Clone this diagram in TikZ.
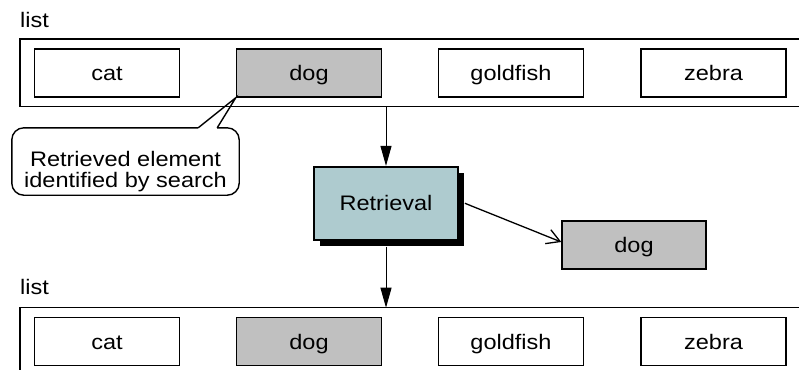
\documentclass[tikz,border=0pt]{standalone}
\usepackage{fontspec}
\setmainfont{Liberation Sans}[FakeStretch=1.12]
\usetikzlibrary{arrows.meta,shadows}
\definecolor{chit}{HTML}{C0C0C0}
\definecolor{cteal}{HTML}{AECBCF}

\begin{document}
\begin{tikzpicture}[x=1pt,y=-1pt,
  every node/.style={font=\fontsize{21}{21}\selectfont},
  item/.style={draw,line width=1.4pt,minimum width=145pt,minimum height=48pt,inner sep=0pt,text height=16pt,text depth=1pt},
  hit/.style={item,fill=chit},
  frame/.style={line width=1.1pt},
  lbl/.style={anchor=base west,inner sep=0pt},
  flow/.style={line width=1pt,-{Triangle[length=20pt,width=11pt]}}]
  \useasboundingbox (0,0) rectangle (799,370);
  \node[lbl] (toplbl) at (20,27) {list};
  \draw[frame] (799,39) -- (20,39) -- (20,106.5) -- (799,106.5);
  \coordinate (topfr) at (20,106.5);
  \node[item] (cat1) at (107,73) {cat};
  \node[hit] (dog1) at (309,73) {dog};
  \node[item] (fish1) at (511,73) {goldfish};
  \node[item] (zeb1) at (713.5,73) {zebra};
  \node[item,line width=1.8pt,fill=cteal,minimum width=144pt,minimum height=73pt,
    general shadow={fill=black,shadow xshift=6pt,shadow yshift=-6pt}] (ret) at (386,203.3) {Retrieval};
  \node[hit,minimum width=144pt] (dog2) at (634,245) {dog};
  \node[minimum width=227pt,minimum height=67pt,inner sep=0pt] (note) at (125.5,161.5) {};
  \node[align=center,inner sep=0pt] (notetxt) at (125.5,172) {Retrieved element\\identified by search};
  \draw[line width=1.4pt,rounded corners=12pt] ([xshift=-22pt]note.north east) -- (note.north east) -- (note.south east) -- (note.south west) -- (note.north west) -- ([xshift=-41pt]note.north east);
  \draw[line width=1.4pt,line join=miter] ([xshift=-41pt]note.north east) -- (dog1.south west) -- ([xshift=-22pt]note.north east);
  \node[lbl] (botlbl) at (20,294) {list};
  \draw[frame] (799,307.7) -- (20,307.7) -- (20,370);
  \coordinate (botfr) at (20,307.7);
  \node[item] (cat2) at (107,341.5) {cat};
  \node[hit] (dog2b) at (309,341.5) {dog};
  \node[item] (fish2) at (511,341.5) {goldfish};
  \node[item] (zeb2) at (713.5,341.5) {zebra};
  \draw[flow] (ret.north |- topfr) -- (ret.north);
  \draw[flow] ([yshift=-6pt]ret.south) -- (ret.south |- botfr);
  \draw[line width=1.3pt,-{Straight Barb[length=13pt,width=15pt]}] ([xshift=6pt]ret.east) -- ([yshift=3pt]dog2.west);
\end{tikzpicture}
\end{document}
